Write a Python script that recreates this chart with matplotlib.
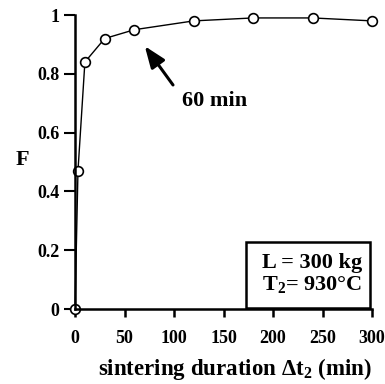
import matplotlib
matplotlib.use("Agg")
import matplotlib.pyplot as plt
from matplotlib.patches import Rectangle

t = [0, 3, 10, 30, 60, 120, 180, 240, 300]
F = [0.0, 0.47, 0.84, 0.92, 0.95, 0.98, 0.99, 0.99, 0.98]
xticks = [0, 50, 100, 150, 200, 250, 300]
yticks = [0, 0.2, 0.4, 0.6, 0.8, 1]
ytick_labels = ["0", "0.2", "0.4", "0.6", "0.8", "1"]

plt.rcParams['font.family'] = ['Liberation Serif', 'DejaVu Serif']
plt.rcParams['font.weight'] = 'bold'
plt.rcParams['mathtext.fontset'] = 'custom'
plt.rcParams['mathtext.rm'] = 'Liberation Serif:bold'
plt.rcParams['mathtext.bf'] = 'Liberation Serif:bold'
plt.rcParams['mathtext.it'] = 'Liberation Serif:bold'
plt.rcParams['mathtext.default'] = 'bf'

fig = plt.figure(figsize=(3.85, 3.84), dpi=100)
ax = fig.add_axes([75/385, 1-309/384, 297/385, 294/384])
ax.plot(t, F, color='black', lw=1.0, marker='o', ms=7, mfc='white', mec='black',
        mew=1.2, clip_on=False, zorder=3)
ax.set_xlim(0, 300)
ax.set_ylim(0, 1)
ax.set_xticks(xticks)
ax.set_yticks(yticks)
ax.set_yticklabels(ytick_labels)
for s in ['top', 'right']:
    ax.spines[s].set_visible(False)
for s in ['left', 'bottom']:
    ax.spines[s].set_linewidth(1.8)
    ax.spines[s].set_zorder(3.5)
ax.tick_params(axis='x', direction='out', length=6, width=1.8, labelsize=13, pad=9)
ax.tick_params(axis='y', direction='out', length=8, width=1.5, labelsize=13, pad=3)
for lab in ax.get_xticklabels() + ax.get_yticklabels():
    lab.set_fontweight('bold')
ax.set_xlabel("sintering duration \u0394t$_2$ (min)", fontsize=16.5, fontweight='bold',
              va='top')
ax.xaxis.set_label_coords(0.538, -0.16)
ax.text(-0.178, 0.507, "F", transform=ax.transAxes, fontsize=16, fontweight='bold',
        ha='center', va='center')

ax.annotate("", xy=(70.5, 0.894), xytext=(99, 0.762),
            arrowprops=dict(arrowstyle='-|>,head_length=1.3,head_width=0.5',
                            color='black', lw=2.2, shrinkA=0, shrinkB=0))
ax.text(108, 0.709, "60 min", fontsize=16, fontweight='bold', va='center', ha='left')

ax.add_patch(Rectangle((0.576, 0.004), 0.417, 0.224, transform=ax.transAxes,
                       fc='white', ec='black', lw=1.8, zorder=4, clip_on=False))
ax.text(0.966, 0.156, "L = 300 kg", transform=ax.transAxes, fontsize=16,
        fontweight='bold', ha='right', va='center', zorder=5)
ax.text(0.966, 0.082, "T$_2$= 930°C", transform=ax.transAxes, fontsize=16,
        fontweight='bold', ha='right', va='center', zorder=5)

fig.savefig("out.png", dpi=100)
